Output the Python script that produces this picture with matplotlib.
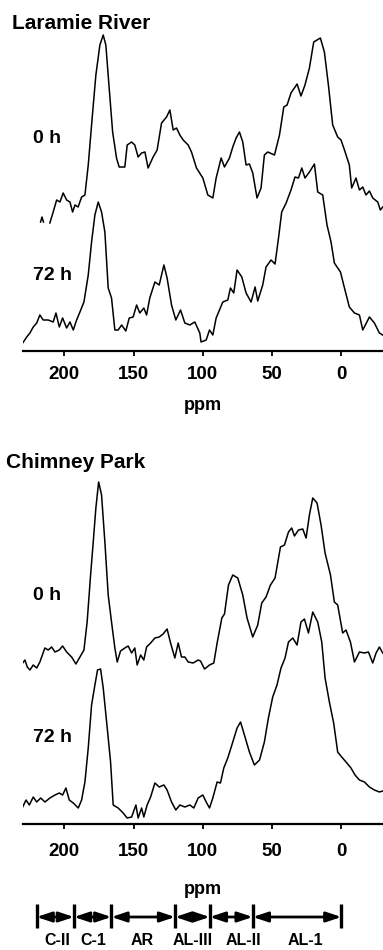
import numpy as np
import matplotlib
matplotlib.use("Agg")
import matplotlib.pyplot as plt

plt.rcParams['font.family'] = ['Liberation Sans', 'DejaVu Sans']
plt.rcParams['font.weight'] = 'bold'

# ---- spectra (ppm, intensity in arbitrary units) ----
# Laramie River, 0 h (short fragment at the far left, then a gap)
lr0_ppm = [217.1, 216.1, 215.0, np.nan,
           210.4, 208.0, 205.5, 203.1, 200.8, 198.3, 195.9, 194.0, 192.3, 190.0,
           187.5, 185.1, 182.7, 180.3, 177.2, 174.3, 171.9, 170.0, 167.6, 165.1,
           162.3, 160.4, 156.3, 154.6, 151.4, 149.1, 146.7, 144.2, 141.8, 139.5,
           135.9, 133.0, 129.8, 126.2, 123.8, 121.4, 119.0, 116.6, 114.2, 110.6,
           108.2, 104.6, 100.0, 96.4, 92.8, 90.4, 86.8, 84.4, 80.8, 78.4,
           76.0, 73.6, 71.2, 68.8, 66.4, 64.0, 60.9, 58.0, 55.6, 53.2,
           48.3, 44.7, 41.6, 39.2, 36.4, 32.0, 29.2, 26.3, 23.1, 20.0,
           17.6, 15.2, 12.3, 9.4, 6.3, 2.7, 0.3, -2.2, -5.7, -7.4,
           -10.5, -13.0, -15.4, -17.7, -20.2, -22.6, -26.2, -28.1, -29.8]
lr0_int = [3, 8, 3, np.nan,
           2, 13, 25, 23, 32, 25, 23, 13, 20, 18,
           28, 30, 60, 100, 150, 180, 190, 180, 137, 93,
           67, 58, 58, 80, 83, 80, 68, 72, 73, 57,
           68, 75, 102, 108, 115, 95, 97, 90, 85, 80,
           73, 57, 47, 30, 27, 47, 67, 58, 67, 78,
           87, 93, 83, 60, 61, 52, 27, 37, 70, 73,
           70, 90, 118, 120, 132, 141, 129, 140, 157, 183,
           185, 187, 173, 140, 100, 88, 85, 75, 60, 37,
           47, 35, 38, 30, 34, 27, 23, 15, 18]

# Laramie River, 72 h
lr72_ppm = [230.0, 227.1, 224.8, 222.4, 219.9, 217.6, 215.2, 211.6, 208.0, 206.0,
            203.6, 201.2, 198.3, 195.9, 193.5, 191.1, 188.7, 185.8, 182.7, 180.3,
            177.9, 175.5, 173.1, 170.7, 168.3, 165.9, 163.5, 161.1, 158.6, 155.6,
            153.1, 150.3, 147.8, 145.5, 142.6, 140.6, 138.3, 134.6, 131.5, 128.1,
            125.8, 122.6, 119.5, 116.1, 113.0, 109.4, 105.8, 102.2, 101.3, 97.6,
            95.2, 92.8, 90.4, 85.6, 82.0, 80.1, 77.7, 75.3, 71.9, 68.8,
            65.2, 62.3, 60.4, 56.8, 54.4, 50.8, 47.9, 45.4, 43.1, 39.9,
            36.4, 33.5, 31.0, 28.6, 26.3, 23.1, 19.5, 17.1, 13.5, 10.4,
            7.5, 5.1, 0.7, -2.2, -5.7, -9.4, -13.0, -15.4, -20.2, -23.8,
            -27.4, -29.8]
lr72_int = [2, 8, 12, 18, 22, 30, 25, 25, 23, 32,
            18, 27, 17, 23, 15, 25, 33, 43, 70, 103,
            130, 143, 133, 113, 57, 47, 15, 15, 20, 14,
            27, 28, 40, 32, 37, 30, 47, 63, 60, 80,
            67, 40, 25, 35, 22, 20, 23, 12, 3, 5,
            15, 10, 27, 43, 45, 57, 52, 75, 68, 52,
            43, 58, 44, 60, 78, 85, 81, 107, 133, 142,
            155, 168, 167, 177, 167, 173, 181, 153, 150, 120,
            103, 82, 73, 57, 38, 32, 30, 15, 28, 22,
            12, 10]

# Chimney Park, 0 h
cp0_ppm = [230.0, 228.4, 226.7, 224.8, 222.4, 219.9, 217.6, 214.0, 211.6, 209.1,
           206.7, 203.6, 201.2, 198.3, 194.7, 191.6, 188.7, 185.8, 183.5, 181.0,
           179.1, 177.2, 175.2, 173.1, 170.7, 168.3, 165.9, 163.5, 161.8, 159.4,
           156.3, 153.9, 151.4, 149.1, 147.4, 144.9, 142.6, 140.6, 137.7, 134.6,
           131.5, 128.7, 125.8, 123.3, 120.2, 117.8, 115.4, 113.0, 110.6, 107.0,
           103.4, 101.7, 98.8, 95.2, 92.1, 89.7, 86.3, 84.4, 81.5, 78.4,
           74.8, 71.2, 68.1, 64.0, 60.4, 57.5, 54.4, 51.2, 47.9, 44.0,
           41.1, 38.2, 35.9, 33.9, 31.0, 27.9, 25.5, 23.1, 20.7, 17.6,
           14.7, 11.8, 7.9, 5.1, 2.7, -0.9, -3.3, -6.5, -9.4, -13.0,
           -16.6, -19.5, -22.6, -25.0, -27.4, -29.8]
cp0_int = [7, 10, 3, 0, 5, 2, 8, 22, 20, 23,
           18, 20, 24, 18, 13, 6, 13, 20, 48, 95,
           128, 162, 188, 175, 128, 75, 48, 22, 8, 19,
           22, 24, 17, 22, 5, 15, 10, 23, 27, 32,
           33, 36, 41, 27, 12, 27, 13, 13, 8, 7,
           10, 9, 1, 5, 7, 27, 52, 56, 85, 95,
           92, 75, 52, 33, 45, 67, 73, 85, 92, 123,
           125, 138, 142, 134, 140, 141, 132, 155, 172, 167,
           145, 117, 95, 68, 65, 37, 40, 28, 8, 18,
           17, 18, 7, 17, 23, 17]

# Chimney Park, 72 h
cp72_ppm = [230.0, 227.6, 225.2, 222.4, 219.9, 217.0, 213.9, 210.4, 206.7, 203.6,
            201.2, 198.8, 196.4, 193.5, 189.9, 187.5, 185.1, 182.7, 180.3, 177.9,
            176.0, 173.8, 171.9, 169.0, 166.6, 164.7, 161.1, 157.5, 154.6, 151.4,
            148.3, 146.7, 144.2, 142.6, 140.2, 137.7, 134.6, 131.5, 128.1, 125.8,
            122.6, 119.5, 116.6, 113.0, 109.4, 106.5, 103.4, 100.0, 97.6, 95.2,
            92.8, 89.7, 87.3, 84.9, 82.0, 78.4, 75.3, 72.8, 70.0, 66.4,
            62.8, 59.1, 55.6, 52.7, 49.6, 46.5, 43.6, 40.7, 38.2, 35.1,
            32.0, 29.2, 26.7, 23.8, 20.7, 17.1, 14.2, 11.8, 8.7, 5.6,
            2.7, -0.2, -3.3, -6.9, -9.8, -13.0, -16.6, -20.2, -23.8, -27.4,
            -29.8]
cp72_int = [15, 22, 17, 25, 20, 24, 20, 24, 27, 29,
            27, 34, 22, 19, 14, 22, 40, 74, 117, 137,
            152, 153, 134, 94, 60, 17, 14, 9, 4, 5,
            17, 4, 14, 5, 17, 25, 39, 35, 37, 32,
            20, 12, 17, 15, 17, 14, 24, 27, 20, 14,
            24, 40, 39, 54, 64, 80, 94, 100, 87, 70,
            57, 62, 80, 104, 125, 137, 154, 164, 180, 184,
            177, 200, 203, 189, 210, 200, 180, 144, 120, 99,
            70, 65, 60, 54, 47, 42, 40, 35, 32, 30,
            31]

# carbon regions below the lower panel
region_edges = [220, 193, 166, 120, 95, 64, 0]
region_names = ["C-II", "C-1", "AR", "AL-III", "AL-II", "AL-1"]
region_label_ppm = [205, 179, 144, 107, 71, 26]

ppm_ticks = [200, 150, 100, 50, 0]

W, H = 383, 950
fig = plt.figure(figsize=(W / 100, H / 100), dpi=100)


def px_axes(y_bottom, y_top):
    # axes placed by pixel rows; one y unit = one pixel
    ax = fig.add_axes([22.7 / W, 1 - y_bottom / H, 1 - 22.7 / W, (y_bottom - y_top) / H])
    ax.set_xlim(230, -30)
    ax.set_ylim(0, y_bottom - y_top)
    for s in ("top", "left", "right"):
        ax.spines[s].set_visible(False)
    ax.spines["bottom"].set_linewidth(1.6)
    ax.set_yticks([])
    ax.set_xticks(ppm_ticks)
    ax.tick_params(axis="x", direction="out", length=3.5, width=1.3, labelsize=13.5)
    return ax


def draw_panel(ax, traces):
    for ppm, inten, offset in traces:
        ax.plot(ppm, np.array(inten, dtype=float) + offset, color="black", lw=1.1)


# upper panel: Laramie River
ax1 = px_axes(351, 25)
draw_panel(ax1, [(lr0_ppm, lr0_int, 126), (lr72_ppm, lr72_int, 6)])
ax1.tick_params(axis="x", pad=7)

# lower panel: Chimney Park
ax2 = px_axes(824, 470)
draw_panel(ax2, [(cp0_ppm, cp0_int, 154), (cp72_ppm, cp72_int, 2)])
ax2.tick_params(axis="x", pad=10)


def ftext(x, y, s, size, **kw):
    fig.text(x / W, 1 - y / H, s, fontsize=size, fontweight="bold", **kw)


ftext(12, 29, "Laramie River", 15, va="baseline")
ftext(6, 468, "Chimney Park", 15, va="baseline")
ftext(33, 142.7, "0 h", 14, va="baseline")
ftext(33, 280, "72 h", 14, va="baseline")
ftext(33, 600, "0 h", 14, va="baseline")
ftext(33, 741.7, "72 h", 14, va="baseline")
ftext(203, 405, "ppm", 13, ha="center", va="center")
ftext(203, 889, "ppm", 13, ha="center", va="center")

# region bar
ax3 = fig.add_axes([22.7 / W, 0, 1 - 22.7 / W, 50 / H])
ax3.set_xlim(230, -30)
ax3.set_ylim(0, 50)
ax3.axis("off")
bar_y = 33
ax3.vlines(region_edges, 22, 46, color="black", lw=2.4)
for a, b in zip(region_edges[:-1], region_edges[1:]):
    ax3.annotate("", xy=(b, bar_y), xytext=(a, bar_y),
                 arrowprops=dict(arrowstyle="<|-|>,head_length=0.9,head_width=0.3",
                                 color="black", lw=2.0, shrinkA=0, shrinkB=0,
                                 mutation_scale=10))
for x, name in zip(region_label_ppm, region_names):
    ax3.text(x, 2, name, ha="center", va="bottom", fontsize=11.5, fontweight="bold")

fig.savefig("out.png", dpi=100)
